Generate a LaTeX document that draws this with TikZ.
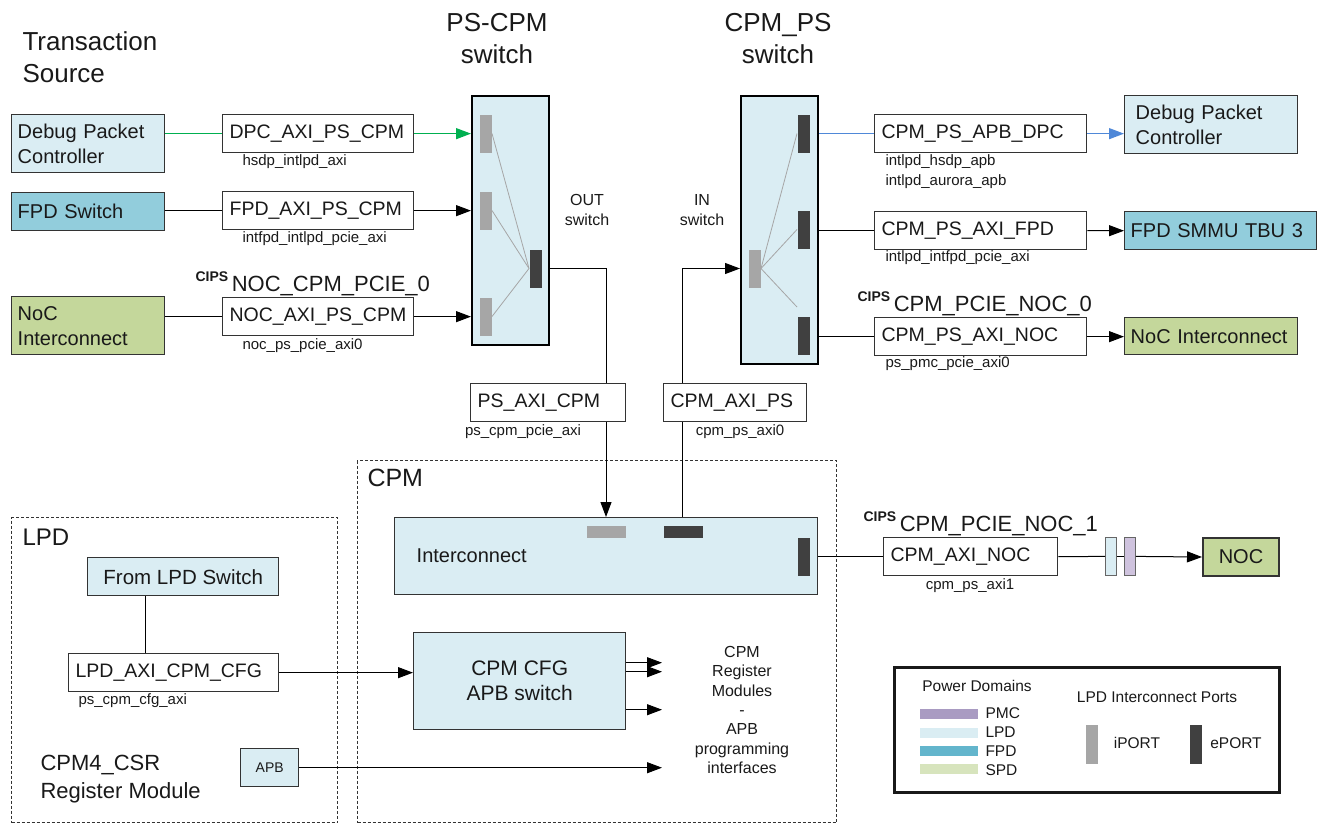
\documentclass[tikz,border=0pt]{standalone}
\usepackage{fontspec}
\setmainfont{Liberation Sans}
\usetikzlibrary{arrows.meta}
\definecolor{lpdfill}{HTML}{DAEDF3}
\definecolor{fpdfill}{HTML}{92CDDC}
\definecolor{spdfill}{HTML}{C4D79B}
\definecolor{iportc}{HTML}{A6A6A6}
\definecolor{eportc}{HTML}{404040}
\definecolor{hsdpgreen}{HTML}{00B050}
\definecolor{hsdpblue}{HTML}{4F88D8}
\definecolor{pmcfill}{HTML}{A99BC2}
\definecolor{pmclight}{HTML}{CFC3DE}
\definecolor{fpdleg}{HTML}{63B5CC}
\definecolor{spdleg}{HTML}{D7E4BD}
\begin{document}
\begin{tikzpicture}[x=1pt,y=-1pt,line width=1pt,
  every node/.style={inner sep=0pt,text=black!90},
  ttl/.style={font=\fontsize{26}{32}\selectfont},
  bx/.style={draw=black!80,line width=1.4pt,anchor=north west,inner xsep=6pt,align=left,font=\fontsize{20}{25}\selectfont},
  ifc/.style={draw=black!80,line width=1.3pt,fill=white,anchor=north west,inner xsep=7pt,align=left,minimum height=38,font=\fontsize{19.5}{24}\selectfont},
  sig/.style={anchor=west,align=left,font=\fontsize{15}{20}\selectfont},
  cips/.style={anchor=base west,font=\fontsize{22}{26}\selectfont},
  note/.style={align=center,font=\fontsize{16}{19.3}\selectfont},
  lgt/.style={font=\fontsize{15.5}{18}\selectfont},
  sw/.style={draw=black,line width=2.2pt,fill=lpdfill,anchor=north west,minimum width=77},
  iport/.style={fill=iportc,anchor=north west,minimum width=12,minimum height=38},
  eport/.style={fill=eportc,anchor=north west,minimum width=12,minimum height=38},
  pbar/.style={draw=black!60,line width=0.8pt,anchor=north west,minimum width=11,minimum height=38},
  lbar/.style={anchor=north west,minimum width=58,minimum height=10},
  fan/.style={draw=black!35,line width=0.8pt},
  region/.style={draw=black!80,line width=1pt,dash pattern=on 3pt off 2pt,anchor=north west},
  arr/.style={-{Triangle[length=15pt,width=11pt]}}]
\useasboundingbox (0,0) rectangle (1325,825);

% titles
\node[ttl,anchor=north west,align=left] (tsrc) at (22,31) {Transaction\\Source};
\node[ttl,anchor=north,align=center] (tpsw) at (497,13) {PS-CPM\\switch};
\node[ttl,anchor=north,align=center] (tcsw) at (778,13) {CPM\_PS\\switch};

% transaction sources
\node[bx,fill=lpdfill,text width=141,minimum height=58] (sdpc) at (11,114) {Debug Packet\\Controller};
\node[bx,fill=fpdfill,text width=141,minimum height=38] (sfpd) at (11,192) {FPD Switch};
\node[bx,fill=spdfill,text width=141,minimum height=58] (snoc) at (11,296) {NoC\\Interconnect};

\node[ifc,text width=177] (dpcin) at (222,114) {DPC\_AXI\_PS\_CPM};
\node[ifc,text width=177] (fpdin) at (222,191) {FPD\_AXI\_PS\_CPM};
\node[ifc,text width=177] (nocin) at (222,297) {NOC\_AXI\_PS\_CPM};
\node[sig] (ldpc) at (242,162) {hsdp\_intlpd\_axi};
\node[sig] (lfpd) at (242,239) {intfpd\_intlpd\_pcie\_axi};
\node[sig] (lnoc) at (242,346) {noc\_ps\_pcie\_axi0};
\node[cips] (cnoc) at (195,291) {\raisebox{10pt}{\fontsize{14}{14}\selectfont\bfseries CIPS}\,NOC\_CPM\_PCIE\_0};

% PS-CPM switch
\node[sw,minimum height=249] (psw) at (471,95) {};
\node[iport] (pi1) at (479,114) {};
\node[iport] (pi2) at (479,191) {};
\node[iport] (pi3) at (479,297) {};
\node[eport] (pe) at (529,249) {};
\draw[fan] (pe.west) -- (pi1.east);
\draw[fan] (pe.west) -- (pi2.east);
\draw[fan] (pe.west) -- (pi3.east);

% CPM_PS switch
\node[sw,minimum height=268] (csw) at (740,95) {};
\node[iport] (ci) at (748,249) {};
\node[eport] (ce1) at (797,114) {};
\node[eport] (ce2) at (797,210) {};
\node[eport] (ce3) at (797,316) {};
\draw[fan] (ci.east) -- (ce1.west);
\draw[fan] (ci.east) -- (ce2.west);
\draw[fan] (ci.east) -- ([yshift=9pt]ce3.north west);

\node[note] (outsw) at (587,210) {OUT\\switch};
\node[note] (insw) at (702,210) {IN\\switch};

\draw[hsdpgreen,line width=1.3pt] (dpcin.west) -- (dpcin.west -| sdpc.east);
\draw[arr,hsdpgreen,line width=1.3pt] (dpcin.east) -- (dpcin.east -| psw.west);
\draw (fpdin.west) -- (fpdin.west -| sfpd.east);
\draw[arr] (fpdin.east) -- (fpdin.east -| psw.west);
\draw (nocin.west) -- (nocin.west -| snoc.east);
\draw[arr] (nocin.east) -- (nocin.east -| psw.west);

% destinations
\node[ifc,text width=198] (apbdpc) at (874,114) {CPM\_PS\_APB\_DPC};
\node[ifc,text width=198] (axifpd) at (874,211) {CPM\_PS\_AXI\_FPD};
\node[ifc,text width=198] (axinoc) at (874,317) {CPM\_PS\_AXI\_NOC};
\node[sig] (lapb) at (885,172) {intlpd\_hsdp\_apb\\intlpd\_aurora\_apb};
\node[sig] (lafpd) at (885,258) {intlpd\_intfpd\_pcie\_axi};
\node[sig] (lanoc) at (885,364) {ps\_pmc\_pcie\_axi0};
\node[cips] (cnoc0) at (857,311) {\raisebox{10pt}{\fontsize{14}{14}\selectfont\bfseries CIPS}\,CPM\_PCIE\_NOC\_0};

\node[bx,fill=lpdfill,inner xsep=11pt,text width=151,minimum height=58] (tdpc) at (1124,95) {Debug Packet\\Controller};
\node[bx,fill=fpdfill,text width=180,minimum height=38] (tfpd) at (1124,211) {FPD SMMU TBU 3};
\node[bx,fill=spdfill,text width=161,minimum height=37] (tnoc) at (1124,317) {NoC Interconnect};

\draw[hsdpblue,line width=1.3pt] (apbdpc.west) -- (apbdpc.west -| csw.east);
\draw[arr,hsdpblue,line width=1.3pt] (apbdpc.east) -- (apbdpc.east -| tdpc.west);
\draw (axifpd.west) -- (axifpd.west -| csw.east);
\draw[arr] (axifpd.east) -- (tfpd.west);
\draw (axinoc.west) -- (axinoc.west -| csw.east);
\draw[arr] (axinoc.east) -- (axinoc.east -| tnoc.west);

% PS <-> CPM paths
\node[ifc,text width=141] (psaxi) at (470,383) {PS\_AXI\_CPM};
\node[ifc,text width=129] (cpaxi) at (663,383) {CPM\_AXI\_PS};
\node[sig,anchor=center] (lpsaxi) at (523,432) {ps\_cpm\_pcie\_axi};
\node[sig,anchor=center] (lcpaxi) at (740,432) {cpm\_ps\_axi0};

% CPM
\node[region,minimum width=479,minimum height=362] (cpm) at (357,460) {};
\node[ttl,anchor=north west,font=\fontsize{25}{30}\selectfont] (cpmlbl) at (367,469) {CPM};
\node[bx,fill=lpdfill,inner xsep=22pt,text width=379,minimum height=77] (icn) at (394,517) {Interconnect};
\node[iport,minimum width=39,minimum height=12] (icni) at (586,525) {};
\node[eport,minimum width=39,minimum height=12] (icne) at (663,525) {};
\node[eport] (icno) at (797,537) {};

\coordinate (outx) at (606,0);
\coordinate (inx) at (682,0);
\draw (pe.east -| psw.east) -| (psaxi.north -| outx);
\draw[arr] (psaxi.south -| outx) -- (icn.north -| outx);
\draw (icn.north -| inx) -- (cpaxi.south -| inx);
\draw[arr] (cpaxi.north -| inx) |- (ci.west -| csw.west);

\node[ifc,text width=160] (axinoc1) at (883,537) {CPM\_AXI\_NOC};
\node[sig,anchor=center] (laxinoc1) at (970,586) {cpm\_ps\_axi1};
\node[cips] (cnoc1) at (863,531) {\raisebox{10pt}{\fontsize{14}{14}\selectfont\bfseries CIPS}\,CPM\_PCIE\_NOC\_1};
\node[pbar,fill=lpdfill] (b1) at (1105,537) {};
\node[pbar,fill=pmclight] (b2) at (1124,537) {};
\node[bx,fill=spdfill,line width=2pt,minimum width=76,minimum height=38,align=center] (noc) at (1202,537) {NOC};
\draw (axinoc1.west) -- (axinoc1.west -| icn.east);
\draw (axinoc1.east) -- (b1.west);
\draw (b1.east) -- (b2.west);
\draw[arr] (b2.east) -- (noc.west);

\node[bx,fill=lpdfill,minimum width=212,minimum height=97,align=center,font=\fontsize{21}{25}\selectfont] (cfgsw) at (413,632) {CPM CFG\\APB switch};
\node[note] (regmod) at (742,710) {CPM\\Register\\Modules\\-\\APB\\programming\\interfaces};
\coordinate (regx) at (662,0);
\draw[arr] ([yshift=18.5pt]cfgsw.east) -- ([yshift=18.5pt]cfgsw.east -| regx);
\draw[arr] ([yshift=9.5pt]cfgsw.east) -- ([yshift=9.5pt]cfgsw.east -| regx);
\draw[arr] ([yshift=-28.5pt]cfgsw.east) -- ([yshift=-28.5pt]cfgsw.east -| regx);

% LPD
\node[region,minimum width=326,minimum height=305] (lpd) at (11,517) {};
\node[ttl,anchor=north west,font=\fontsize{24}{30}\selectfont] (lpdlbl) at (22,528) {LPD};
\node[bx,fill=lpdfill,minimum width=191,minimum height=38,font=\fontsize{20.5}{25}\selectfont] (fromlpd) at (87,557) {From LPD Switch};
\node[ifc,text width=196] (lpdcfg) at (68,653) {LPD\_AXI\_CPM\_CFG};
\node[sig] (llpdcfg) at (78,701) {ps\_cpm\_cfg\_axi};
\coordinate (lpdx) at (145,0);
\draw (fromlpd.south -| lpdx) -- (lpdcfg.north -| lpdx);
\draw[arr] (lpdcfg.east) -- (lpdcfg.east -| cfgsw.west);
\node[anchor=north west,align=left,font=\fontsize{22}{28}\selectfont] (csr) at (40,755) {CPM4\_CSR\\Register Module};
\node[bx,fill=lpdfill,minimum width=58,minimum height=38,font=\fontsize{14}{16}\selectfont] (apb) at (240,748) {APB};
\draw[arr] (apb.east) -- (apb.east -| regx);

% legend
\node[draw=black!90,line width=2.5pt,minimum width=385,minimum height=125,anchor=north west] (leg) at (893,666) {};
\node[lgt] (pdlbl) at (977,686) {Power Domains};
\node[lbar,fill=pmcfill] (lpmc) at (919,708) {};
\node[lbar,fill=lpdfill] (llpd) at (919,727) {};
\node[lbar,fill=fpdleg] (lfpdb) at (919,745) {};
\node[lbar,fill=spdleg] (lspd) at (919,763) {};
\node[lgt,anchor=west] (tpmc) at (985,713) {PMC};
\node[lgt,anchor=west] (tlpd) at (985,732) {LPD};
\node[lgt,anchor=west] (tfpdl) at (985,751) {FPD};
\node[lgt,anchor=west] (tspd) at (985,770) {SPD};
\node[lgt] (portlbl) at (1157,697) {LPD Interconnect Ports};
\node[iport,minimum height=39] (liport) at (1085,724) {};
\node[eport,minimum height=39] (leport) at (1189,724) {};
\node[lgt] (tiport) at (1137,743) {iPORT};
\node[lgt] (teport) at (1236,743) {ePORT};
\end{tikzpicture}
\end{document}
